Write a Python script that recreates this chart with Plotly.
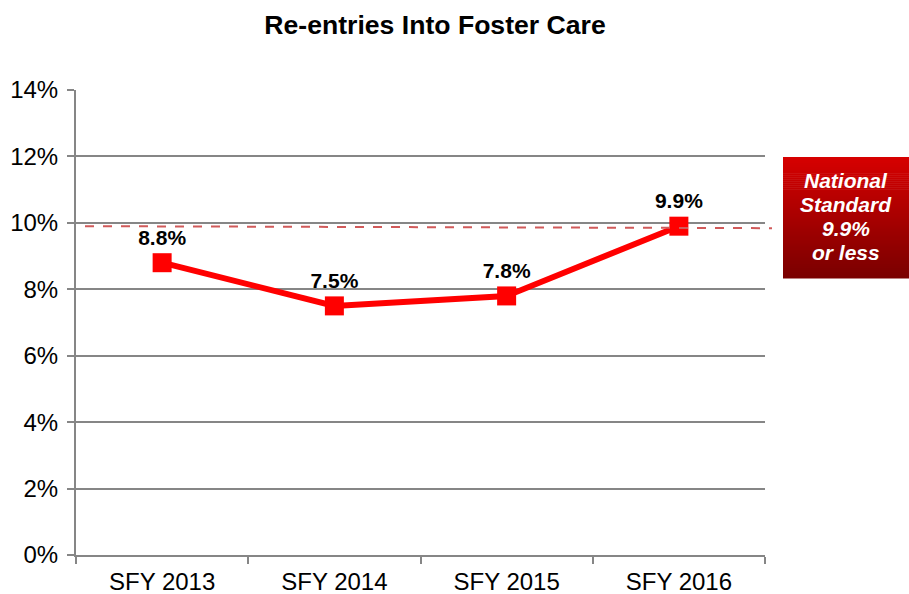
import plotly.graph_objects as go

# Re-entry rates by state fiscal year
years = ["SFY 2013", "SFY 2014", "SFY 2015", "SFY 2016"]
rates = [8.8, 7.5, 7.8, 9.9]
labels = ["8.8%", "7.5%", "7.8%", "9.9%"]
standard = 9.9
callout_lines = ["National", "Standard", "9.9%", "or less"]
y_ticks = [0, 2, 4, 6, 8, 10, 12, 14]
y_tick_text = ["0%", "2%", "4%", "6%", "8%", "10%", "12%", "14%"]

FONT = "Liberation Sans, Arial, sans-serif"
W, H = 909, 594
L, R, T, B = 76, 144, 90, 39

fig = go.Figure()

fig.add_trace(go.Scatter(
    x=years, y=rates,
    mode="lines+markers+text",
    line=dict(color="#ff0000", width=6),
    marker=dict(symbol="square", size=19, color="#ff0000"),
    text=labels,
    textposition="top center",
    textfont=dict(family=FONT, size=21, color="#000000", weight="bold"),
    cliponaxis=False,
    showlegend=False,
    hoverinfo="skip",
))

pw, ph = W - L - R, H - T - B


def px_x(x):
    return (x - L) / pw


def px_y(y):
    return 1 - (y - T) / ph


shapes = []
# National standard reference line (dashed)
shapes.append(dict(
    type="line", xref="paper", yref="y",
    x0=px_x(85), x1=px_x(772),
    y0=standard, y1=standard - 0.06,
    line=dict(color="#d05a5a", width=2, dash="dash"),
    layer="above",
))

# Gradient-filled callout box built from thin bands
bx0, bx1, by0, by1 = 783, 909, 157, 278
steps = 60
top_rgb = (214, 0, 0)
bot_rgb = (122, 0, 0)
for i in range(steps):
    t = i / (steps - 1)
    c = tuple(round(top_rgb[k] + (bot_rgb[k] - top_rgb[k]) * t) for k in range(3))
    ya = by0 + (by1 - by0) * i / steps
    yb = by0 + (by1 - by0) * (i + 1) / steps + 0.6
    shapes.append(dict(
        type="rect", xref="paper", yref="paper",
        x0=px_x(bx0), x1=px_x(bx1),
        y0=px_y(yb), y1=px_y(ya),
        fillcolor="rgb(%d,%d,%d)" % c, line=dict(width=0),
        layer="above",
    ))

# Callout text, one line at a time for tight spacing
line_centers = [180, 204, 228, 252]
for txt, yc in zip(callout_lines, line_centers):
    fig.add_annotation(
        xref="paper", yref="paper",
        x=px_x((bx0 + bx1) / 2), y=px_y(yc),
        text="<b><i>%s</i></b>" % txt,
        showarrow=False,
        font=dict(family=FONT, size=21, color="#ffffff"),
        xanchor="center", yanchor="middle",
    )

fig.update_layout(
    width=W, height=H,
    margin=dict(l=L, r=R, t=T, b=B),
    paper_bgcolor="#ffffff",
    plot_bgcolor="#ffffff",
    shapes=shapes,
    title=dict(
        text="<b>Re-entries Into Foster Care</b>",
        x=435 / W, xanchor="center",
        y=1 - 25 / H, yanchor="middle",
        font=dict(family=FONT, size=26.6, color="#000000"),
    ),
    xaxis=dict(
        type="category",
        automargin=False,
        showline=True, linecolor="#868686", linewidth=2,
        ticks="outside", tickson="boundaries", ticklen=7,
        tickcolor="#868686", tickwidth=2,
        showgrid=False,
        tickfont=dict(family=FONT, size=24, color="#000000"),
        ticklabelstandoff=4,
        range=[-0.5, 3.5],
        fixedrange=True,
    ),
    yaxis=dict(
        range=[0, 14],
        automargin=False,
        tickvals=y_ticks, ticktext=y_tick_text,
        showline=True, linecolor="#868686", linewidth=2,
        ticks="outside", ticklen=7, tickcolor="#868686", tickwidth=2,
        showgrid=True, gridcolor="#868686", gridwidth=2,
        zeroline=False,
        tickfont=dict(family=FONT, size=24, color="#000000"),
        ticklabelstandoff=4,
        fixedrange=True,
    ),
)

fig.write_html("out.html")
